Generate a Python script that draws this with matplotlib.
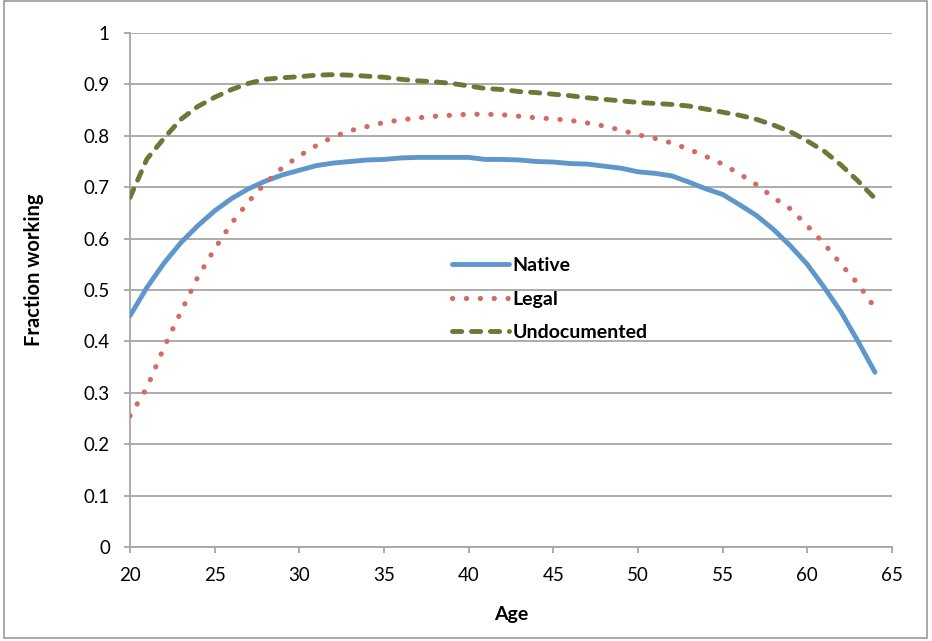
import matplotlib
matplotlib.use("Agg")
import matplotlib.pyplot as plt
from matplotlib.patches import Rectangle

plt.rcParams["font.family"] = ["Lato", "DejaVu Sans"]

# Age on x axis, fraction working on y axis
ages = list(range(20, 65))

native = [0.450, 0.505, 0.552, 0.592, 0.625, 0.654, 0.678, 0.697, 0.712, 0.724,
          0.733, 0.742, 0.747, 0.750, 0.753, 0.754, 0.757, 0.758, 0.758, 0.758,
          0.758, 0.754, 0.754, 0.753, 0.750, 0.749, 0.746, 0.745, 0.741, 0.737,
          0.730, 0.727, 0.722, 0.710, 0.697, 0.686, 0.666, 0.645, 0.618, 0.586,
          0.550, 0.505, 0.457, 0.400, 0.340]

legal = [0.255, 0.310, 0.388, 0.457, 0.525, 0.580, 0.630, 0.672, 0.708, 0.738,
         0.761, 0.781, 0.798, 0.810, 0.818, 0.826, 0.831, 0.835, 0.838, 0.840,
         0.842, 0.842, 0.841, 0.838, 0.835, 0.833, 0.830, 0.825, 0.819, 0.811,
         0.802, 0.795, 0.786, 0.774, 0.760, 0.745, 0.726, 0.705, 0.680, 0.658,
         0.625, 0.590, 0.550, 0.512, 0.465]

undocumented = [0.680, 0.755, 0.795, 0.832, 0.857, 0.875, 0.890, 0.902, 0.910, 0.913,
                0.915, 0.918, 0.919, 0.918, 0.916, 0.914, 0.910, 0.907, 0.905, 0.902,
                0.897, 0.892, 0.890, 0.886, 0.884, 0.881, 0.878, 0.874, 0.871, 0.868,
                0.865, 0.863, 0.861, 0.858, 0.852, 0.846, 0.840, 0.832, 0.821, 0.808,
                0.790, 0.770, 0.743, 0.712, 0.678]

x_ticks = [20, 25, 30, 35, 40, 45, 50, 55, 60, 65]
y_ticks = [0, 0.1, 0.2, 0.3, 0.4, 0.5, 0.6, 0.7, 0.8, 0.9, 1]
y_labels = ["0", "0.1", "0.2", "0.3", "0.4", "0.5", "0.6", "0.7", "0.8", "0.9", "1"]

fig = plt.figure(figsize=(9.32, 6.41), dpi=100)
ax = fig.add_axes([0.1395, 0.1466, 0.8175, 0.8019])

grid_col = "#A6A6A6"

# Lines
ax.plot(ages, native, color="#5F97CB", lw=3.5, solid_capstyle="round",
        label="Native", zorder=3)
ax.plot(ages, legal, color="#D46A64", lw=3.7, dashes=(0.05, 2.65),
        dash_capstyle="round", label="Legal", zorder=3)
ax.plot(ages, undocumented, color="#687A36", lw=3.5, dashes=(1.9, 2.0),
        dash_capstyle="round", label="Undocumented", zorder=3)

ax.set_xlim(20, 65)
ax.set_ylim(0, 1)
ax.set_xticks(x_ticks)
ax.set_yticks(y_ticks)
ax.set_yticklabels(y_labels)
ax.yaxis.grid(True, color=grid_col, lw=1.3)
ax.set_axisbelow(True)

for side in ["top", "right"]:
    ax.spines[side].set_visible(False)
for side in ["left", "bottom"]:
    ax.spines[side].set_color(grid_col)
    ax.spines[side].set_linewidth(1.3)

ax.tick_params(axis="both", colors=grid_col, length=4.5, width=1.3,
               labelcolor="black", labelsize=13.5)
ax.tick_params(axis="x", pad=10)
ax.tick_params(axis="y", pad=10)

ax.set_xlabel("Age", fontsize=14, fontweight="bold")
ax.set_ylabel("Fraction working", fontsize=14.5, fontweight="bold")
ax.xaxis.set_label_coords(0.5, -0.115)
ax.yaxis.set_label_coords(-0.113, 0.54)

leg = ax.legend(loc="upper left", bbox_to_anchor=(0.40, 0.598), frameon=False,
                handlelength=2.9, handletextpad=0.2, labelspacing=0.85,
                prop={"size": 14, "weight": "bold"})

# Outer gray border of the chart area
fig.patches.append(Rectangle((0.004, 0.004), 0.991, 0.994, transform=fig.transFigure,
                             fill=False, edgecolor="#9A9A9A", lw=1.2))

fig.savefig("out.png", dpi=100)
